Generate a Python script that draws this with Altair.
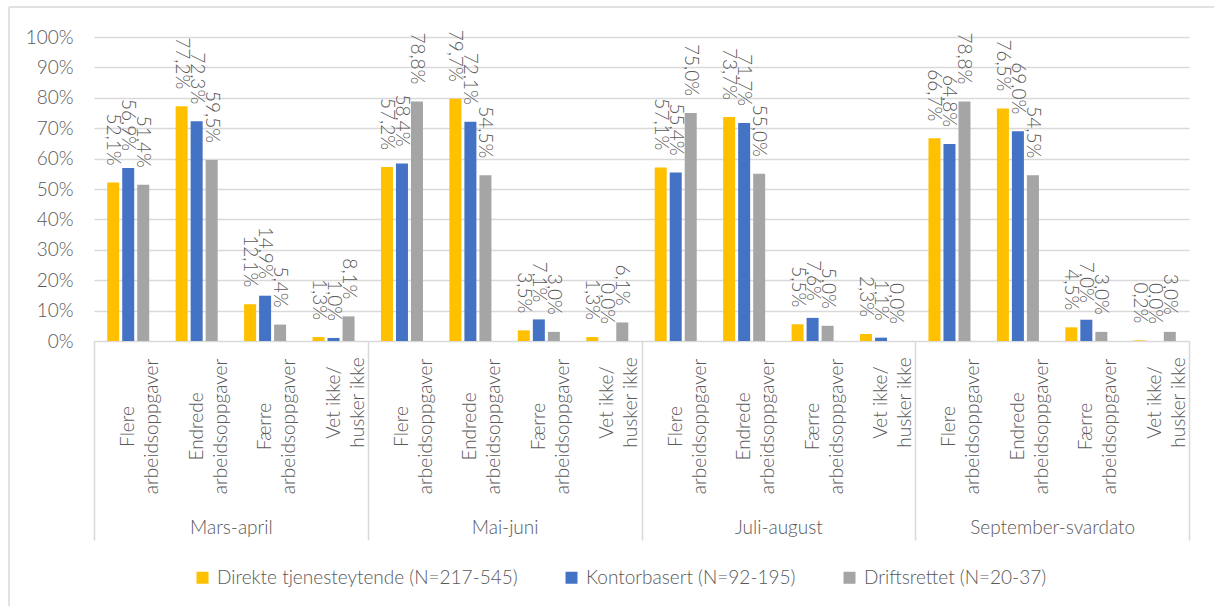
import altair as alt
import pandas as pd

periods = ["Mars-april", "Mai-juni", "Juli-august", "September-svardato"]
categories = ["Flere|arbeidsoppgaver", "Endrede|arbeidsoppgaver",
              "Færre|arbeidsoppgaver", "Vet ikke/|husker ikke"]
series = ["Direkte tjenesteytende (N=217-545)", "Kontorbasert (N=92-195)",
          "Driftsrettet (N=20-37)"]
colors = ["#FFC000", "#4472C4", "#A5A5A5"]

# values in order: period x category
direkte = [52.1, 77.2, 12.1, 1.3, 57.2, 79.7, 3.5, 1.3,
           57.1, 73.7, 5.5, 2.3, 66.7, 76.5, 4.5, 0.2]
kontor = [56.9, 72.3, 14.9, 1.0, 58.4, 72.1, 7.1, 0.0,
          55.4, 71.7, 7.6, 1.1, 64.8, 69.0, 7.0, 0.0]
drift = [51.4, 59.5, 5.4, 8.1, 78.8, 54.5, 3.0, 6.1,
         75.0, 55.0, 5.0, 0.0, 78.8, 54.5, 3.0, 3.0]
y_ticks = [0, 10, 20, 30, 40, 50, 60, 70, 80, 90, 100]

keys = [p + "|" + c for p in periods for c in categories]
rows = []
for s_name, vals in zip(series, [direkte, kontor, drift]):
    for k, v in zip(keys, vals):
        rows.append({"key": k, "series": s_name, "value": v})
df = pd.DataFrame(rows)
pdf = pd.DataFrame({"period": periods})

GRID = "#d9d9d9"
TXT = "#595959"
FONT = "Lato"
FW = 300
FS = 19

x_scale = alt.Scale(paddingInner=0, paddingOuter=0)
xoff = alt.XOffset("series:N", sort=series,
                   scale=alt.Scale(paddingInner=0.2, paddingOuter=0.88))
y_scale = alt.Scale(domain=[0, 100], nice=False)
y_axis = alt.Axis(
    title=None, values=y_ticks, tickCount=11,
    labelExpr="datum.value + '%'", ticks=False, tickSize=0, domain=False,
    grid=True, gridColor=GRID, gridWidth=1.5, labelPadding=21,
    labelFontSize=FS, labelColor=TXT, labelFont=FONT, labelFontWeight=FW,
    labelOverlap=False)

one = alt.Data(values=[{"a": 1}])
frame_left = alt.Chart(one).mark_rule(stroke=GRID, strokeWidth=1.5).encode(
    x=alt.value(-85), y=alt.value(-30), y2=alt.value(600))
frame_top = alt.Chart(one).mark_rule(stroke=GRID, strokeWidth=1.5).encode(
    x=alt.value(-85), x2=alt.value(1200), y=alt.value(-30))

bars = alt.Chart(df).mark_bar().encode(
    x=alt.X("key:N", sort=keys, scale=x_scale, axis=alt.Axis(
        title=None, orient="bottom",
        labelExpr="slice(split(datum.value, '|'), 1)",
        labelAngle=-90, labelAlign="center", labelBaseline="middle",
        labelLineHeight=24,
        labelPadding={"condition": {"test": "indexof(datum.value, 'Vet') >= 0", "value": 61}, "value": 85},
        ticks=False, domain=False, grid=False, labelOverlap=False,
        labelFontSize=FS, labelColor=TXT, labelFont=FONT,
        labelFontWeight=FW, labelLimit=0)),
    xOffset=xoff,
    y=alt.Y("value:Q", scale=y_scale, axis=y_axis),
    color=alt.Color("series:N", sort=series,
                    scale=alt.Scale(domain=series, range=colors),
                    legend=alt.Legend(
                        title=None, orient="none", legendX=99, legendY=531,
                        direction="horizontal", symbolType="square",
                        symbolSize=144, symbolStrokeWidth=0, labelFontSize=FS,
                        labelColor=TXT, labelFont=FONT, labelFontWeight=FW,
                        columnPadding=44, labelOffset=5, padding=0,
                        labelLimit=0)),
)

labels = alt.Chart(df).transform_calculate(
    label="replace(format(datum.value, '.1f'), '.', ',') + '%'"
).mark_text(angle=90, align="right", baseline="middle", dx=-17,
            fontSize=FS, color=TXT, font=FONT, fontWeight=FW).encode(
    x=alt.X("key:N", sort=keys, scale=x_scale, axis=None),
    xOffset=xoff,
    y=alt.Y("value:Q", scale=y_scale, axis=y_axis),
    text="label:N",
)

per = alt.Chart(pdf).mark_point(opacity=0).encode(
    x=alt.X("period:N", sort=periods, scale=x_scale, axis=alt.Axis(
        title=None, orient="bottom", tickBand="extent", tickSize=199,
        tickColor=GRID, tickWidth=1.5, labelAngle=0, labelPadding=-13,
        labelBaseline="middle", labelAlign="center", labelFontSize=FS,
        labelColor=TXT, labelFont=FONT, labelFontWeight=FW,
        domain=False, grid=False)),
    y=alt.value(0),
)

chart = alt.layer(bars, labels, per, frame_left, frame_top).resolve_scale(
    x="independent"
).properties(
    width=1095, height=304,
    autosize=alt.AutoSizeParams(type="none"),
    padding={"left": 94, "top": 37, "right": 25, "bottom": 265},
).configure(font=FONT).configure_view(stroke=None)

chart.save("out.html", embed_options={"renderer": "svg", "actions": False})
